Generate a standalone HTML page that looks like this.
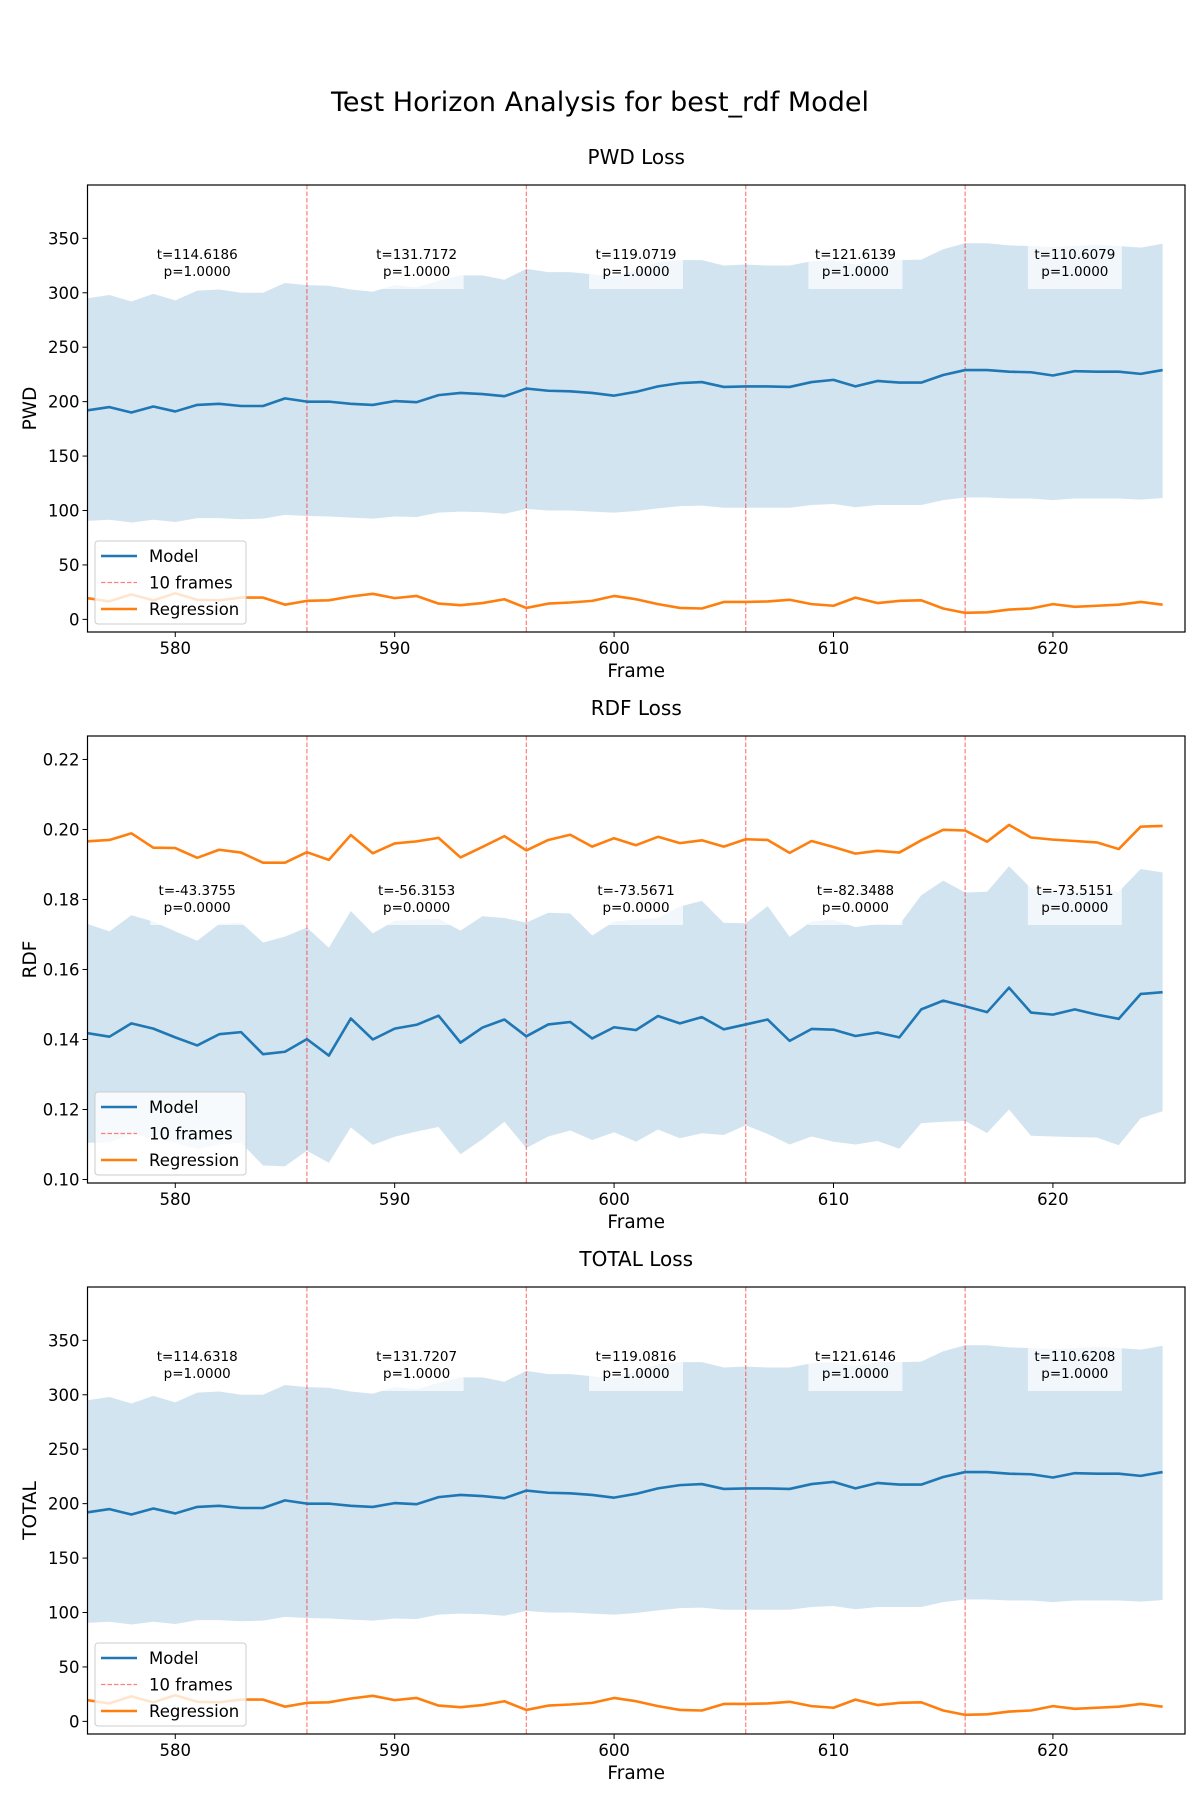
<!DOCTYPE html>
<html><head><meta charset="utf-8"><style>
body{margin:0;background:#fff;}
svg{display:block;font-family:"DejaVu Sans","Liberation Sans",sans-serif;}
</style></head><body>
<svg id="fig" width="1200" height="1800" viewBox="0 0 1200 1800" xmlns="http://www.w3.org/2000/svg">
<rect width="1200" height="1800" fill="#fff"/>
<text x="600" y="111" font-size="27" text-anchor="middle">Test Horizon Analysis for best_rdf Model</text>
</svg>
<script>
const frames=[];for(let f=576;f<=625;f++)frames.push(f);
const xTicks=[580,590,600,610,620];
const horizonLines=[586,596,606,616];

const pwdModel=[192,195,190,195.5,191,197,198,196,196,203,200,200,198,197,200.5,199.5,206,208,207,205,212,210,209.5,208,205.5,209,214,217,218,213.5,214,214,213.5,218,220,214,219,217.5,217.5,224.5,229,229,227.5,227,224,228,227.5,227.5,225.5,229];
const pwdUpper=[295,298,292,299,293,302,303,300,300,309,307,306.5,303,301,307,305,311,316,316,312,322,319,319,317,315,321,328,330,330,325,326,325,325,329,330,326,330,330,330.5,340,345.5,345.5,343.5,343,342,343,344,343,341.5,345];
const pwdLower=[90.5,91.5,89,91.5,89.5,93,93,92,92.5,96,95,94.5,93.5,92.5,94.5,94,98,99,98.5,97,101.5,100,100,99,98,99.5,102,104,104.5,102.5,102.5,102.5,102.5,105,106,103,105,105,105,109.5,112,112,111,111,109.5,111,111,111,110,111.5];
const pwdReg=[19.5,16.5,23,17.5,24,18,17.5,20,20,13.5,17,17.5,21,23.5,19.5,21.5,14.5,13,15,18.5,10.5,14.5,15.5,17,21.5,18.5,14,10.5,10,16,16,16.5,18,14,12.5,20,15,17,17.5,10,6,6.5,9,10,14,11.5,12.5,13.5,16,13.5];
const pwdStats=["t=114.6186\np=1.0000","t=131.7172\np=1.0000","t=119.0719\np=1.0000","t=121.6139\np=1.0000","t=110.6079\np=1.0000"];

const rdfModel=[0.1418,0.1408,0.1446,0.1431,0.1406,0.1383,0.1415,0.1421,0.1358,0.1365,0.1401,0.1354,0.146,0.14,0.1431,0.1442,0.1468,0.1391,0.1434,0.1457,0.1409,0.1443,0.145,0.1403,0.1435,0.1427,0.1467,0.1446,0.1464,0.1429,0.1443,0.1457,0.1396,0.143,0.1428,0.141,0.142,0.1406,0.1486,0.1511,0.1495,0.1478,0.1548,0.1477,0.1471,0.1486,0.1471,0.1459,0.153,0.1535];
const rdfUpper=[0.173,0.1709,0.1755,0.1737,0.1709,0.1682,0.173,0.1734,0.1677,0.1694,0.172,0.1662,0.1767,0.1703,0.1739,0.1742,0.1745,0.1711,0.1752,0.1747,0.1734,0.1762,0.176,0.1697,0.1737,0.1742,0.1747,0.178,0.1796,0.1733,0.1732,0.1781,0.1693,0.1737,0.1742,0.1721,0.173,0.1728,0.1812,0.1854,0.182,0.1822,0.1895,0.1832,0.1824,0.1822,0.1822,0.1822,0.1887,0.1877];
const rdfLower=[0.1105,0.1106,0.113,0.1118,0.1105,0.1087,0.11,0.1105,0.104,0.1038,0.1082,0.1048,0.1149,0.1099,0.1122,0.1137,0.115,0.1072,0.1115,0.1165,0.109,0.1123,0.114,0.1113,0.1135,0.1108,0.1143,0.1118,0.1132,0.1127,0.1155,0.113,0.11,0.1123,0.1108,0.11,0.111,0.1088,0.1161,0.1165,0.1167,0.1133,0.12,0.1125,0.1123,0.1121,0.112,0.1098,0.1175,0.1195];
const rdfReg=[0.1966,0.197,0.1989,0.1948,0.1947,0.1919,0.1942,0.1934,0.1905,0.1905,0.1935,0.1913,0.1984,0.1932,0.196,0.1966,0.1976,0.192,0.195,0.1981,0.194,0.197,0.1985,0.1951,0.1975,0.1955,0.1979,0.1961,0.1969,0.1951,0.1972,0.197,0.1933,0.1967,0.195,0.1931,0.1939,0.1934,0.1969,0.1999,0.1997,0.1965,0.2013,0.1977,0.1971,0.1967,0.1963,0.1944,0.2008,0.201];
const rdfStats=["t=-43.3755\np=0.0000","t=-56.3153\np=0.0000","t=-73.5671\np=0.0000","t=-82.3488\np=0.0000","t=-73.5151\np=0.0000"];

const totModel=[192,195,190,195.5,191,197,198,196,196,203,200,200,198,197,200.5,199.5,206,208,207,205,212,210,209.5,208,205.5,209,214,217,218,213.5,214,214,213.5,218,220,214,219,217.5,217.5,224.5,229,229,227.5,227,224,228,227.5,227.5,225.5,229];
const totUpper=[295,298,292,299,293,302,303,300,300,309,307,306.5,303,301,307,305,311,316,316,312,322,319,319,317,315,321,328,330,330,325,326,325,325,329,330,326,330,330,330.5,340,345.5,345.5,343.5,343,342,343,344,343,341.5,345];
const totLower=[90.5,91.5,89,91.5,89.5,93,93,92,92.5,96,95,94.5,93.5,92.5,94.5,94,98,99,98.5,97,101.5,100,100,99,98,99.5,102,104,104.5,102.5,102.5,102.5,102.5,105,106,103,105,105,105,109.5,112,112,111,111,109.5,111,111,111,110,111.5];
const totReg=[19.5,16.5,23,17.5,24,18,17.5,20,20,13.5,17,17.5,21,23.5,19.5,21.5,14.5,13,15,18.5,10.5,14.5,15.5,17,21.5,18.5,14,10.5,10,16,16,16.5,18,14,12.5,20,15,17,17.5,10,6,6.5,9,10,14,11.5,12.5,13.5,16,13.5];
const totStats=["t=114.6318\np=1.0000","t=131.7207\np=1.0000","t=119.0816\np=1.0000","t=121.6146\np=1.0000","t=110.6208\np=1.0000"];

const pwdTicks=[0,50,100,150,200,250,300,350];
const rdfTicks=[0.10,0.12,0.14,0.16,0.18,0.20,0.22];
const totTicks=[0,50,100,150,200,250,300,350];

const NS="http://www.w3.org/2000/svg";
const fig=document.getElementById('fig');
function mk(tag,attrs,parent){const e=document.createElementNS(NS,tag);for(const k in attrs)e.setAttribute(k,attrs[k]);(parent||fig).appendChild(e);return e;}

const L=87.5,R=1185,XMIN=576,XMAX=626.02;
function xs(v){return L+(v-XMIN)/(XMAX-XMIN)*(R-L);}

function panel(p){
  const g=mk('g',{});
  
  
  const T=p.top,B=p.top+447;
  const ys=v=>B-(v-p.ymin)/(p.ymax-p.ymin)*(B-T);
  const clipId='clip-'+p.key;
  const cp=mk('clipPath',{id:clipId},g);mk('rect',{x:L,y:T,width:R-L,height:B-T},cp);
  const plot=mk('g',{'clip-path':'url(#'+clipId+')'},g);
  let d='';
  frames.forEach((f,i)=>{d+=(i?'L':'M')+xs(f).toFixed(2)+','+ys(p.upper[i]).toFixed(2);});
  for(let i=frames.length-1;i>=0;i--)d+='L'+xs(frames[i]).toFixed(2)+','+ys(p.lower[i]).toFixed(2);
  const band=mk('path',{d:d+'Z',fill:'#1f77b4','fill-opacity':'0.2'},plot);
  
  
  horizonLines.forEach(h=>{
    const ln=mk('line',{x1:xs(h),x2:xs(h),y1:T,y2:B,stroke:'#ff0000','stroke-opacity':'0.5','stroke-width':1.2,'stroke-dasharray':'4.5,2'},plot);
    
    
  });
  function series(vals,color,name){
    let s='';vals.forEach((v,i)=>{s+=(i?'L':'M')+xs(frames[i]).toFixed(2)+','+ys(v).toFixed(2);});
    const e=mk('path',{d:s,fill:'none',stroke:color,'stroke-width':2.6,'stroke-linejoin':'round'},plot);
    
    
  }
  series(p.model,'#1f77b4',p.key+'-model-line');
  series(p.reg,'#ff7f0e',p.key+'-regression-line');
  p.stats.forEach((s,i)=>{
    const cx=xs(581+10*i);const lines=s.split('\n');
    const ag=mk('g',{},g);
    
    
    mk('rect',{x:cx-47,y:p.ann-28,width:94,height:46,fill:'#fff','fill-opacity':'0.7'},ag);
    lines.forEach((t,j)=>{const te=mk('text',{x:cx,y:p.ann-12+j*17,'font-size':13.5,'text-anchor':'middle'},ag);te.textContent=t;});
  });
  mk('rect',{x:L,y:T,width:R-L,height:B-T,fill:'none',stroke:'#000','stroke-width':1.2},g);
  xTicks.forEach(t=>{
    mk('line',{x1:xs(t),x2:xs(t),y1:B,y2:B+5,stroke:'#000','stroke-width':1},g);
    const te=mk('text',{x:xs(t),y:B+22,'font-size':16.5,'text-anchor':'middle'},g);te.textContent=t;
    
    
  });
  p.ticks.forEach(t=>{
    mk('line',{x1:L-5,x2:L,y1:ys(t),y2:ys(t),stroke:'#000','stroke-width':1},g);
    const te=mk('text',{x:L-8,y:ys(t)+6,'font-size':16.5,'text-anchor':'end'},g);te.textContent=p.fmt(t);
    
    
  });
  const xl=mk('text',{x:(L+R)/2,y:B+45,'font-size':18.5,'text-anchor':'middle'},g);xl.textContent='Frame';
  
  
  const yl=mk('text',{x:0,y:0,'font-size':18.5,'text-anchor':'middle',transform:'translate(36,'+((T+B)/2)+') rotate(-90)'},g);yl.textContent=p.label;
  
  
  const tl=mk('text',{x:(L+R)/2,y:T-21,'font-size':20,'text-anchor':'middle'},g);tl.textContent=p.title;
  
  
  const lg=mk('g',{},g);
  
  
  const lt=p.leg;
  mk('rect',{x:95,y:lt,width:151,height:83,rx:3,fill:'#fff','fill-opacity':'0.8',stroke:'#cccccc','stroke-width':1},lg);
  const ents=[['Model','#1f77b4',null,2.6],['10 frames','#ff0000','4.5,2',1.2],['Regression','#ff7f0e',null,2.6]];
  ents.forEach((e,j)=>{
    const yy=lt+15+j*26.5;
    const ln=mk('line',{x1:101,x2:137,y1:yy,y2:yy,stroke:e[1],'stroke-width':e[3]},lg);
    if(e[2]){ln.setAttribute('stroke-dasharray',e[2]);ln.setAttribute('stroke-opacity','0.5');}
    const te=mk('text',{x:149,y:yy+6,'font-size':16.5},lg);te.textContent=e[0];
    
    
  });
}
const fmtInt=v=>String(v);
panel({key:'pwd',title:'PWD Loss',label:'PWD',top:185,ymin:-11.6,ymax:399,model:pwdModel,upper:pwdUpper,lower:pwdLower,reg:pwdReg,stats:pwdStats,ticks:pwdTicks,fmt:fmtInt,ann:271,leg:541});
panel({key:'rdf',title:'RDF Loss',label:'RDF',top:736,ymin:0.099,ymax:0.2267,model:rdfModel,upper:rdfUpper,lower:rdfLower,reg:rdfReg,stats:rdfStats,ticks:rdfTicks,fmt:v=>v.toFixed(2),ann:907,leg:1092});
panel({key:'total',title:'TOTAL Loss',label:'TOTAL',top:1287,ymin:-11.6,ymax:399,model:totModel,upper:totUpper,lower:totLower,reg:totReg,stats:totStats,ticks:totTicks,fmt:fmtInt,ann:1373,leg:1643});
</script>
</body></html>
